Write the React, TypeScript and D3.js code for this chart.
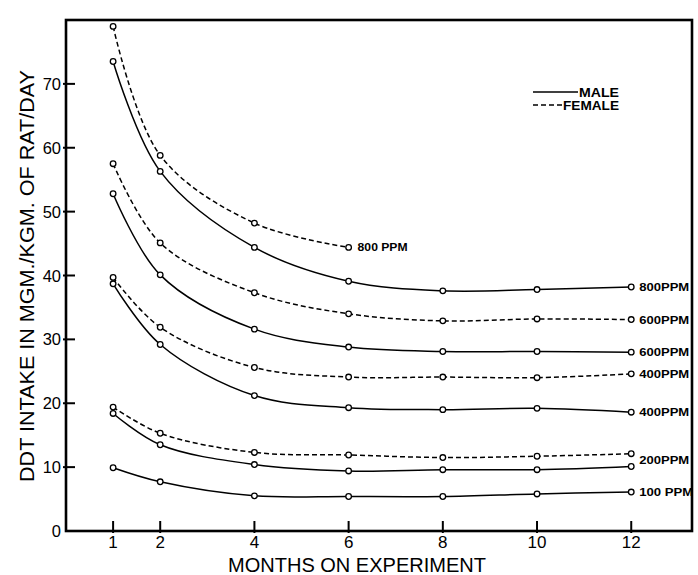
import React from "react";
import * as d3 from "d3";

// ---- data ----
const months = [1, 2, 4, 6, 8, 10, 12];
const monthsFemale800 = [1, 2, 4, 6];

const female800 = [79.0, 58.8, 48.2, 44.4];
const male800 = [73.5, 56.3, 44.4, 39.1, 37.6, 37.8, 38.2];
const female600 = [57.5, 45.1, 37.3, 34.0, 32.9, 33.2, 33.1];
const male600 = [52.8, 40.1, 31.6, 28.8, 28.1, 28.1, 28.0];
const female400 = [39.7, 31.9, 25.6, 24.1, 24.1, 24.0, 24.6];
const male400 = [38.7, 29.2, 21.2, 19.3, 19.0, 19.2, 18.6];
const female200 = [19.4, 15.3, 12.3, 11.9, 11.5, 11.7, 12.1];
const male200 = [18.4, 13.5, 10.4, 9.4, 9.6, 9.6, 10.1];
const male100 = [9.9, 7.7, 5.5, 5.4, 5.4, 5.8, 6.1];

const xTickValues = [1, 2, 4, 6, 8, 10, 12];
const xTickLabels = ["1", "2", "4", "6", "8", "10", "12"];
const yTickValues = [0, 10, 20, 30, 40, 50, 60, 70];
const yTickLabels = ["0", "10", "20", "30", "40", "50", "60", "70"];

const yTitle = "DDT INTAKE IN MGM./KGM. OF RAT/DAY";
const xTitle = "MONTHS ON EXPERIMENT";
const legendLabels = ["MALE", "FEMALE"];

type Sex = "male" | "female";
const seriesList: { x: number[]; y: number[]; sex: Sex }[] = [
  { x: monthsFemale800, y: female800, sex: "female" },
  { x: months, y: male800, sex: "male" },
  { x: months, y: female600, sex: "female" },
  { x: months, y: male600, sex: "male" },
  { x: months, y: female400, sex: "female" },
  { x: months, y: male400, sex: "male" },
  { x: months, y: female200, sex: "female" },
  { x: months, y: male200, sex: "male" },
  { x: months, y: male100, sex: "male" },
];

const endLabels = [
  { text: "800PPM", month: 12, value: male800[6] },
  { text: "600PPM", month: 12, value: female600[6] },
  { text: "600PPM", month: 12, value: male600[6] },
  { text: "400PPM", month: 12, value: female400[6] },
  { text: "400PPM", month: 12, value: male400[6] },
  { text: "200PPM", month: 12, value: (female200[6] + male200[6]) / 2 },
  { text: "100 PPM", month: 12, value: male100[6] },
];
const midLabel = { text: "800 PPM", month: 6, value: female800[3] };

const W = 698;
const H = 575;
const left = 66;
const right = 692;
const top = 20;
const bottom = 531;

export default function App() {
  const x = d3.scaleLinear().domain([0, 13.29]).range([left, right]);
  const y = d3.scaleLinear().domain([0, 80]).range([bottom, top]);
  const line = d3
    .line<[number, number]>()
    .x((d) => x(d[0]))
    .y((d) => y(d[1]))
    .curve(d3.curveCatmullRom.alpha(0.5));

  const font = "'Liberation Sans', Arial, sans-serif";

  return (
    <svg
      width={W}
      height={H}
      style={{ position: "absolute", left: 0, top: 0, background: "#fff" }}
      fontFamily={font}
    >
      <rect x={0} y={0} width={W} height={H} fill="#fff" />
      {/* frame */}
      <rect
        x={left}
        y={top}
        width={right - left}
        height={bottom - top}
        fill="none"
        stroke="#000"
        strokeWidth={2.6}
      />
      {/* y ticks */}
      {yTickValues.map((v, i) => (
        <g key={"yt" + i}>
          {v > 0 && (
            <line
              x1={left - 3}
              x2={left + 9}
              y1={y(v)}
              y2={y(v)}
              stroke="#000"
              strokeWidth={2}
            />
          )}
          <text
            x={left - 5}
            y={y(v) + 6}
            fontSize={16.5}
            textAnchor="end"
            fill="#000"
          >
            {yTickLabels[i]}
          </text>
        </g>
      ))}
      {/* x ticks */}
      {xTickValues.map((m, i) => (
        <g key={"xt" + i}>
          <line
            x1={x(m)}
            x2={x(m)}
            y1={bottom + 2}
            y2={bottom - 10}
            stroke="#000"
            strokeWidth={2}
          />
          <text
            x={x(m)}
            y={bottom + 17}
            fontSize={17}
            textAnchor="middle"
            fill="#000"
          >
            {xTickLabels[i]}
          </text>
        </g>
      ))}
      {/* titles */}
      <text
        transform={`translate(34, 276) rotate(-90)`}
        fontSize={20}
        textAnchor="middle"
        textLength={412}
        lengthAdjust="spacingAndGlyphs"
        fill="#000"
      >
        {yTitle}
      </text>
      <text
        x={357}
        y={572}
        fontSize={20}
        textAnchor="middle"
        textLength={258}
        lengthAdjust="spacingAndGlyphs"
        fill="#000"
      >
        {xTitle}
      </text>
      {/* series */}
      {seriesList.map((s, i) => {
        const pts: [number, number][] = s.x.map((m, j) => [m, s.y[j]]);
        return (
          <g key={"s" + i}>
            <path
              d={line(pts) || ""}
              fill="none"
              stroke="#000"
              strokeWidth={1.5}
              strokeDasharray={s.sex === "female" ? "5,3" : undefined}
            />
            {pts.map((p, j) => (
              <circle
                key={j}
                cx={x(p[0])}
                cy={y(p[1])}
                r={2.8}
                fill="#fff"
                stroke="#000"
                strokeWidth={1.3}
              />
            ))}
          </g>
        );
      })}
      {/* end labels */}
      {endLabels.map((l, i) => (
        <text
          key={"el" + i}
          x={x(l.month) + 8}
          y={y(l.value) + 4}
          fontSize={11.5}
          fontWeight={600}
          textLength={l.text.length > 6 ? 54 : 50}
          lengthAdjust="spacingAndGlyphs"
          fill="#000"
        >
          {l.text}
        </text>
      ))}
      <text
        x={x(midLabel.month) + 9}
        y={y(midLabel.value) + 4}
        fontSize={11.5}
        fontWeight={600}
        textLength={50}
        lengthAdjust="spacingAndGlyphs"
        fill="#000"
      >
        {midLabel.text}
      </text>
      {/* legend */}
      <line x1={533} x2={578} y1={92} y2={92} stroke="#000" strokeWidth={1.5} />
      <text x={579} y={97} fontSize={12} fontWeight={600} fill="#000" textLength={40} lengthAdjust="spacingAndGlyphs">
        {legendLabels[0]}
      </text>
      <line
        x1={533}
        x2={562}
        y1={105}
        y2={105}
        stroke="#000"
        strokeWidth={1.5}
        strokeDasharray="5,3"
      />
      <text x={563} y={110} fontSize={12} fontWeight={600} fill="#000" textLength={56} lengthAdjust="spacingAndGlyphs">
        {legendLabels[1]}
      </text>
    </svg>
  );
}
